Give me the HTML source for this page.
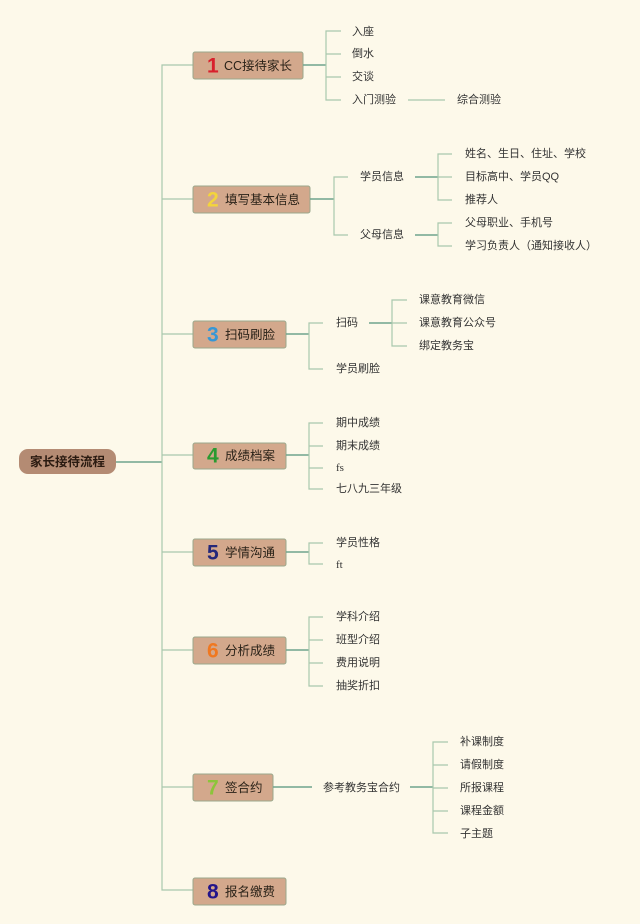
<!DOCTYPE html>
<html><head><meta charset="utf-8"><style>
html,body{margin:0;padding:0;background:#fdf9ea;}
svg{display:block}
text{font-family:"Liberation Sans","Noto Sans CJK SC",sans-serif;font-size:11px;fill:#333;dominant-baseline:central}
.n{font-family:"Liberation Sans",sans-serif;font-weight:bold;font-size:21px}
.b{font-size:12.5px;fill:#2a2218}
.l{stroke:#a9c8ad;stroke-width:1.2;fill:none}
.t{stroke:#6fa48c;stroke-width:1.6;fill:none}
.box{fill:#d3a88c;stroke:#9aa88c;stroke-width:1}
</style></head><body>
<svg width="640" height="924" viewBox="0 0 640 924">
<rect width="640" height="924" fill="#fdf9ea"/>
<!-- root -->
<rect x="19" y="449" width="97" height="25" rx="9" fill="#b48b73"/>
<text x="67.5" y="462" text-anchor="middle" style="font-size:12.5px;font-weight:bold;fill:#2a1a10">家长接待流程</text>
<path class="t" d="M116 462H162"/>
<path class="l" d="M193 65H162V890H193M162 199H193M162 334H193M162 455H193M162 552H193M162 650H193M162 787H193"/>

<!-- boxes -->
<rect class="box" x="193" y="52" width="110" height="27" rx="2"/>
<text class="n" x="207" y="66" fill="#d8202c" style="fill:#d8202c">1</text><text class="b" x="224" y="66">CC接待家长</text>
<rect class="box" x="193" y="186" width="117" height="27" rx="2"/>
<text class="n" x="207" y="200" style="fill:#f3d43c">2</text><text class="b" x="225" y="200">填写基本信息</text>
<rect class="box" x="193" y="321" width="93" height="27" rx="2"/>
<text class="n" x="207" y="335" style="fill:#3597d6">3</text><text class="b" x="225" y="335">扫码刷脸</text>
<rect class="box" x="193" y="443" width="93" height="26" rx="2"/>
<text class="n" x="207" y="456" style="fill:#2a9a30">4</text><text class="b" x="225" y="456">成绩档案</text>
<rect class="box" x="193" y="539" width="93" height="27" rx="2"/>
<text class="n" x="207" y="553" style="fill:#25287a">5</text><text class="b" x="225" y="553">学情沟通</text>
<rect class="box" x="193" y="637" width="93" height="27" rx="2"/>
<text class="n" x="207" y="651" style="fill:#f07820">6</text><text class="b" x="225" y="651">分析成绩</text>
<rect class="box" x="193" y="774" width="80" height="27" rx="2"/>
<text class="n" x="207" y="788" style="fill:#8cc43a">7</text><text class="b" x="225" y="788">签合约</text>
<rect class="box" x="193" y="878" width="93" height="27" rx="2"/>
<text class="n" x="207" y="892" style="fill:#22148a">8</text><text class="b" x="225" y="892">报名缴费</text>

<!-- branch 1 -->
<path class="t" d="M303 65H326"/>
<path class="l" d="M341 31H326V100H341M326 54H341M326 77H341M408 100H445"/>
<text x="352" y="32">入座</text><text x="352" y="54">倒水</text><text x="352" y="77">交谈</text><text x="352" y="100">入门测验</text>
<text x="457" y="100">综合测验</text>

<!-- branch 2 -->
<path class="t" d="M310 199H334"/>
<path class="l" d="M348 177H334V235H348"/>
<text x="360" y="177">学员信息</text><text x="360" y="235">父母信息</text>
<path class="t" d="M415 177H438M415 235H438"/>
<path class="l" d="M452 154H438V200H452M438 177H452M452 223H438V246H452"/>
<text x="465" y="154">姓名、生日、住址、学校</text><text x="465" y="177">目标高中、学员QQ</text><text x="465" y="200">推荐人</text>
<text x="465" y="223">父母职业、手机号</text><text x="465" y="246">学习负责人（通知接收人）</text>

<!-- branch 3 -->
<path class="t" d="M286 334H309"/>
<path class="l" d="M323 323H309V369H323"/>
<text x="336" y="323">扫码</text><text x="336" y="369">学员刷脸</text>
<path class="t" d="M369 323H392"/>
<path class="l" d="M407 300H392V346H407M392 323H407"/>
<text x="419" y="300">课意教育微信</text><text x="419" y="323">课意教育公众号</text><text x="419" y="346">绑定教务宝</text>

<!-- branch 4 -->
<path class="t" d="M286 455H309"/>
<path class="l" d="M323 423H309V489H323M309 446H323M309 468H323"/>
<text x="336" y="423">期中成绩</text><text x="336" y="446">期末成绩</text><text x="336" y="468" style="font-family:'Liberation Serif',serif">fs</text><text x="336" y="489">七八九三年级</text>

<!-- branch 5 -->
<path class="t" d="M286 552H309"/>
<path class="l" d="M323 543H309V564H323"/>
<text x="336" y="543">学员性格</text><text x="336" y="565" style="font-family:'Liberation Serif',serif">ft</text>

<!-- branch 6 -->
<path class="t" d="M286 650H309"/>
<path class="l" d="M323 617H309V686H323M309 640H323M309 663H323"/>
<text x="336" y="617">学科介绍</text><text x="336" y="640">班型介绍</text><text x="336" y="663">费用说明</text><text x="336" y="686">抽奖折扣</text>

<!-- branch 7 -->
<path class="t" d="M273 787H312M410 787H433"/>
<text x="323" y="788">参考教务宝合约</text>
<path class="l" d="M448 742H433V833H448M433 765H448M433 788H448M433 811H448"/>
<text x="460" y="742">补课制度</text><text x="460" y="765">请假制度</text><text x="460" y="788">所报课程</text><text x="460" y="811">课程金额</text><text x="460" y="834">子主题</text>
</svg>
</body></html>
